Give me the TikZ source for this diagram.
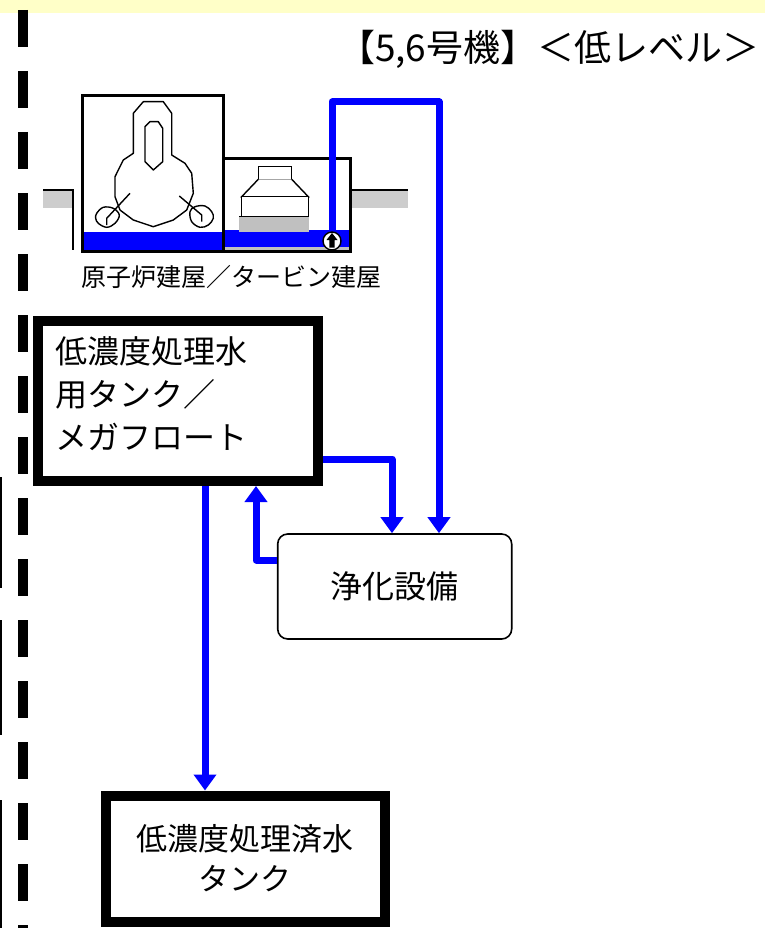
\documentclass[tikz,border=0pt]{standalone}
\usepackage{fontspec}
\newfontfamily\jp{Noto Sans CJK JP}
\usetikzlibrary{arrows.meta}
\definecolor{bandyellow}{RGB}{255,255,200}
\definecolor{pipeblue}{RGB}{0,0,255}
\definecolor{hatchgrey}{RGB}{205,205,205}
\definecolor{stripgrey}{RGB}{192,192,192}

\begin{document}
\begin{tikzpicture}[x=1pt,y=-1pt,
  pipe/.style={draw=pipeblue, line width=7pt, line join=round,
    -{Triangle[width=22pt,length=16pt]}},
  tankbox/.style={draw, line width=10pt, fill=white, inner sep=0pt},
  purbox/.style={draw, line width=1.6pt, rounded corners=10pt, fill=white, inner sep=0pt},
  bldg/.style={draw, line width=3.2pt},
  outl/.style={line width=1.4pt},
  jpfont/.style={font=\jp\fontsize{#1}{#1}\selectfont},
]
\useasboundingbox (0,0) rectangle (765,928);

% top band
\fill[bandyellow] (0,0) rectangle (765,13);

% site boundary
\draw[line width=10pt, dash pattern=on 37pt off 24pt] (22.5,10) -- (22.5,928);
\draw[line width=2pt] (1,477) -- (1,588);
\draw[line width=2pt] (1,620) -- (1,735);
\draw[line width=2pt] (1,800) -- (1,928);

% title
\node[anchor=east, jpfont=37] (title) at (763,49) {【5,6号機】＜低レベル＞};

% ground level
\fill[hatchgrey] (43,190) rectangle (73,208);
\draw[outl] (43,190) -- (73,190) -- (73,250);
\fill[hatchgrey] (352,190) rectangle (408,208);
\draw[outl] (352,190) -- (408,190);

% buildings and stagnant water
\fill[white] (82.3,95.5) rectangle (223.3,251.7);
\fill[white] (223.3,158.7) rectangle (350.7,251.7);
\fill[pipeblue] (84,232) rectangle (221.7,250);
\fill[pipeblue] (225,230) rectangle (349,246.7);
\fill[stripgrey] (225,246.7) rectangle (349,250);

% reactor vessel
\draw[outl, line join=round] (133.3,153.3) -- (133.3,113.3) -- (143.3,101.7) -- (163.3,101.7)
  -- (171.7,113.3) -- (171.7,155) -- (185,163.3) -- (191.7,173.3) -- (193.3,193.3)
  -- (186.7,210) -- (173.3,220) -- (153.3,226.7) -- (133.3,220) -- (120,210)
  -- (115,196.7) -- (115,176.7) -- (123.3,160) -- cycle;
\draw[outl, line join=round] (145,126.7) -- (150,121.7) -- (158.3,121.7) -- (162.7,128.3)
  -- (162.7,161.7) -- (153.3,170) -- (145,161.7) -- cycle;
\draw[outl] (130,193.3) -- (106.7,218.3) -- (106.7,225);
\draw[outl] plot[smooth cycle, tension=0.6] coordinates {(96.7,213.3) (103.3,207.3) (113.3,208.3)
  (119.3,215) (115,223.3) (106.7,227.3) (98.3,223.3) (95.7,218.3)};
\draw[outl] (179.3,196) -- (201.7,215) -- (201.7,221.7);
\draw[outl] plot[smooth cycle, tension=0.6] coordinates {(190,211.7) (195,206.7) (205,206)
  (211.7,211.7) (213.3,218.3) (208.3,225) (200,227.3) (191.7,221.7)};

% turbine
\draw[outl, fill=white] (258.3,166.7) rectangle (291.7,179.3);
\draw[outl, fill=white] (258.3,179.3) -- (241.7,196.7) -- (308.3,196.7) -- (291.7,179.3);
\draw[outl, fill=white] (241.7,196.7) rectangle (308.3,216.7);
\fill[stripgrey] (239.3,216.7) rectangle (309.3,231.7);
\draw[outl] (239.3,216.7) -- (309.3,216.7);

% building outlines
\draw[bldg] (82.3,95.5) rectangle (223.3,251.7);
\draw[bldg] (223.3,158.7) -- (350.7,158.7) -- (350.7,251.7) -- (223.3,251.7);

\node[jpfont=25] (bldglabel) at (231,277) {原子炉建屋／タービン建屋};

% transfer pump
\node[circle, draw, line width=1.4pt, fill=white, minimum size=18pt, inner sep=0pt] (pump) at (332,241) {};
\fill (332,233) -- (337.5,240) -- (334.7,240) -- (334.7,247.5) -- (329.3,247.5) -- (329.3,240) -- (326.5,240) -- cycle;

% tanks and treatment facility
\node[tankbox, minimum width=279.7pt, minimum height=160pt] (tank) at (177.85,401) {};
\node[anchor=west, align=left, font=\jp\fontsize{32}{43}\selectfont] (tanktext) at (52,394)
  {低濃度処理水\\用タンク／\\メガフロート};
\node[tankbox, minimum width=278.3pt, minimum height=126pt, align=center,
  font=\jp\fontsize{31}{40}\selectfont] (lowtank) at (245.35,858.5) {低濃度処理済水\\タンク};
\node[purbox, minimum width=234pt, minimum height=105pt, jpfont=32] (purif) at (394.7,586.5) {浄化設備};

% piping
\coordinate (bendL) at (332,102);
\coordinate (bendR) at (439,102);
\coordinate (outx) at (205,0);
\coordinate (feed) at (392,459);
\coordinate (ret) at (256,560);
\draw[pipe] (pump.north) -- (bendL) -- (bendR) -- (purif.north -| bendR);
\draw[pipe] (tank.east |- feed) -| (purif.north -| feed);
\draw[pipe] (purif.west |- ret) -| (tank.south -| ret);
\draw[pipe] (tank.south -| outx) -- (lowtank.north -| outx);
\end{tikzpicture}
\end{document}
